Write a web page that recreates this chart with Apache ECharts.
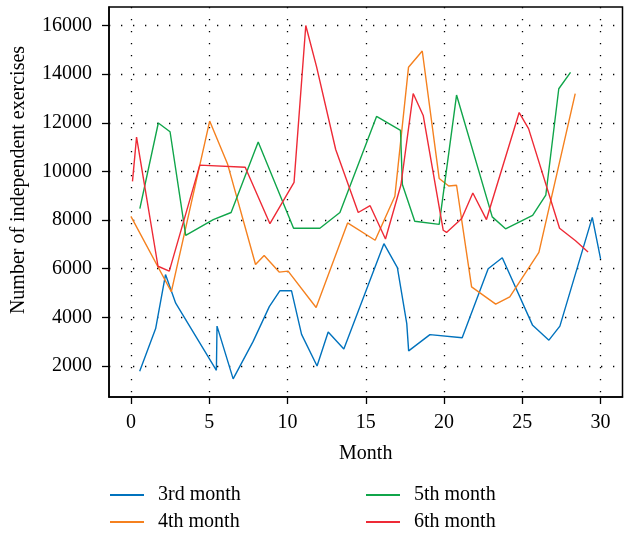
<!DOCTYPE html>
<html><head><meta charset="utf-8">
<script src="https://cdn.jsdelivr.net/npm/echarts@6/dist/echarts.min.js"></script>
<style>html,body{margin:0;padding:0;background:#fff}#c{width:624px;height:534px}</style>
</head><body><div id="c"></div>
<script>
const seriesNames = ['3rd month', '4th month', '5th month', '6th month'];
const seriesColors = ['#0072BD', '#F5811F', '#10A54A', '#EE2A36'];
const xTicks = [0, 5, 10, 15, 20, 25, 30];
const yTicks = [2000, 4000, 6000, 8000, 10000, 12000, 14000, 16000];

const month3 = [[0.56,1780],[1.58,3540],[2.21,5760],[2.86,4580],[5.46,1820],[5.5,3640],[6.53,1470],[7.8,3000],[8.84,4440],[9.51,5090],[10.26,5090],[10.9,3300],[11.89,2000],[12.6,3400],[13.6,2700],[16.16,7030],[17.02,6040],[17.62,3740],[17.74,2620],[19.1,3290],[21.16,3160],[22.82,6000],[23.72,6450],[25.66,3670],[26.7,3060],[27.4,3640],[29.47,8110],[30.0,6400]];
const month4 = [[0,8150],[2.58,5050],[5.03,12070],[6.18,10290],[7.96,6170],[8.51,6545],[9.47,5860],[10.04,5900],[11.83,4405],[13.84,7880],[15.6,7170],[16.86,8980],[17.73,14280],[18.61,14950],[19.69,9710],[20.3,9400],[20.8,9430],[21.76,5250],[23.3,4540],[24.2,4840],[26.06,6670],[28.38,13200]];
const month5 = [[0.57,8470],[1.75,11990],[2.5,11630],[3.5,7370],[5.26,8020],[6.4,8310],[8.13,11210],[10.39,7660],[12.07,7660],[13.35,8310],[15.69,12260],[17.22,11690],[17.34,9460],[18.13,7950],[19.69,7820],[20.8,13140],[23.08,8130],[23.93,7640],[25.66,8190],[26.5,9020],[27.33,13400],[28.08,14070]];
const month6 = [[0.1,9590],[0.36,11410],[1.73,6100],[2.45,5900],[4.4,10260],[7.3,10170],[8.88,7850],[10.42,9550],[11.17,16000],[11.86,14300],[13.08,10900],[14.52,8310],[15.28,8590],[16.26,7220],[17.25,9450],[18.03,13200],[18.67,12300],[19.95,7580],[20.16,7490],[21.13,8060],[21.84,9110],[22.71,8020],[24.8,12420],[25.4,11760],[27.38,7660],[28.4,7150],[29.2,6690]];

const FONT = 'Liberation Serif';
const dotted = { color: '#000', width: 1.3, type: [1.3, 10.7] };
const allData = [month3, month4, month5, month6];
const legendPos = [[105, 480], [105, 507], [361, 480], [361, 507]];

const chart = echarts.init(document.getElementById('c'), null, { renderer: 'canvas' });
chart.setOption({
  animation: false,
  backgroundColor: '#fff',
  textStyle: { fontFamily: FONT },
  grid: { left: 109, top: 7, right: 1.5, bottom: 137, show: true, borderColor: '#000', borderWidth: 1.5, backgroundColor: 'transparent' },
  xAxis: {
    type: 'value', min: -1.4, max: 31.4,
    name: 'Month', nameLocation: 'middle', nameGap: 47,
    nameTextStyle: { fontSize: 20, fontFamily: FONT, color: '#000' },
    axisLine: { show: true, onZero: false, lineStyle: { color: '#000', width: 1.5 } },
    axisTick: { show: true, length: 7, customValues: xTicks, lineStyle: { color: '#000', width: 1.3 } },
    axisLabel: { customValues: xTicks, margin: 16, fontSize: 20, fontFamily: FONT, color: '#000', formatter: v => String(v) },
    splitLine: { show: true, lineStyle: dotted }
  },
  yAxis: {
    type: 'value', min: 724, max: 16760,
    axisLine: { show: true, onZero: false, lineStyle: { color: '#000', width: 1.5 } },
    axisTick: { show: true, length: 7, customValues: yTicks, lineStyle: { color: '#000', width: 1.3 } },
    axisLabel: { customValues: yTicks, margin: 17, fontSize: 20, fontFamily: FONT, color: '#000', formatter: v => String(v) },
    splitLine: { show: true, lineStyle: dotted }
  },
  graphic: [{
    type: 'text', x: 19, y: 180, rotation: Math.PI / 2,
    style: { text: 'Number of independent exercises', fontSize: 20, fontFamily: FONT, fill: '#000', align: 'center', verticalAlign: 'middle' }
  }],
  legend: seriesNames.map((n, i) => ({
    data: [n], left: legendPos[i][0], top: legendPos[i][1],
    icon: 'rect', itemWidth: 34, itemHeight: 2,
    textStyle: { fontSize: 20, lineHeight: 20, fontFamily: FONT, color: '#000', padding: [0, 0, 0, 9] }
  })),
  series: seriesNames.map((n, i) => ({
    name: n, type: 'line', data: allData[i], showSymbol: false, symbol: 'none',
    lineStyle: { color: seriesColors[i], width: 1.4 }, itemStyle: { color: seriesColors[i] }
  }))
});
</script></body></html>
